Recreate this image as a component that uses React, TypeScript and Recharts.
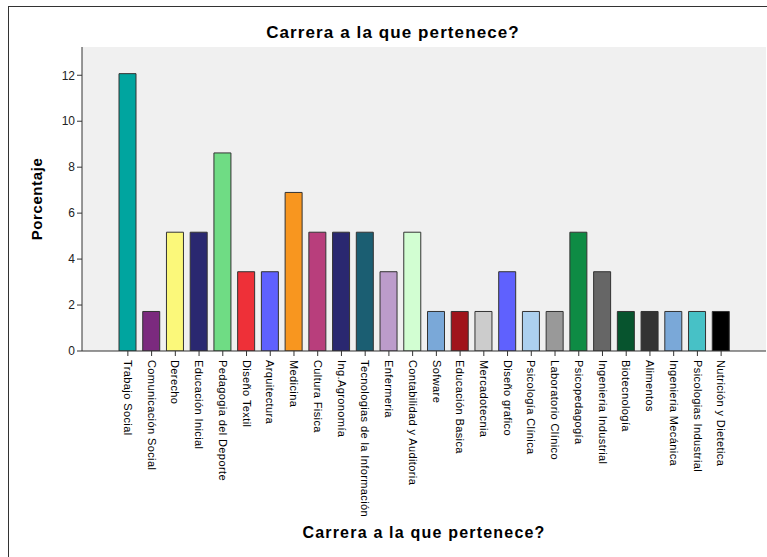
import React from 'react';
import { BarChart, Bar, XAxis, YAxis, CartesianGrid, Cell } from 'recharts';

const categories = [
  'Trabajo Social', 'Comunicación Social', 'Derecho', 'Educación Inicial', 'Pedagogia del Deporte',
  'Diseño Textil', 'Arquitectura', 'Medicina', 'Cultura Fisica', 'Ing.Agronomía',
  'Tecnologias de la Información', 'Enfermeria', 'Contabilidad y Auditoria', 'Sofware', 'Educación Basica',
  'Mercadotecnia', 'Diseño grafico', 'Psicología Clínica', 'Laboratorio Clínico', 'Psicopedagogía',
  'Ingenieria Industrial', 'Biotecnología', 'Alimentos', 'Ingenieria Mecánica', 'Psicologias Industrial',
  'Nutrición y Dietetica',
];

const percentages = [
  12.07, 1.72, 5.17, 5.17, 8.62,
  3.45, 3.45, 6.90, 5.17, 5.17,
  5.17, 3.45, 5.17, 1.72, 1.72,
  1.72, 3.45, 1.72, 1.72, 5.17,
  3.45, 1.72, 1.72, 1.72, 1.72,
  1.72,
];

const barColors = [
  '#00a59f', '#7b2a7e', '#fbf87a', '#2a2870', '#6fdc84',
  '#ee3038', '#5f61fe', '#f8961f', '#b83e7c', '#2a2870',
  '#1b5e72', '#bc9ccb', '#d2fed2', '#7aa8d8', '#a0141b',
  '#cccccc', '#5f61fe', '#acd0ef', '#999999', '#0e8b44',
  '#666666', '#07542e', '#333333', '#7aa8d8', '#47c1c6',
  '#000000',
];

const yTicks = [0, 2, 4, 6, 8, 10, 12];

const title = 'Carrera a la que pertenece?';
const yTitle = 'Porcentaje';

const data = categories.map((name, i) => ({ name, value: percentages[i] }));

const FONT = '"Liberation Sans", Arial, sans-serif';

const XTick = (props: any) => {
  const { x, y, payload } = props;
  return (
    <g transform={`translate(${x},${y})`}>
      <text
        transform="rotate(90)"
        x={2}
        y={0}
        dy="0.35em"
        textAnchor="start"
        fontSize={11}
        letterSpacing={0.4}
        fontFamily={FONT}
        fill="#000"
      >
        {payload.value}
      </text>
    </g>
  );
};

export default function App() {
  return (
    <div style={{ position: 'absolute', left: 0, top: 0, width: 767, height: 557, overflow: 'hidden', background: '#fff', fontFamily: FONT }}>
      <div style={{ position: 'absolute', left: 8, top: 6, width: 800, height: 600, borderLeft: '1px solid #333', borderTop: '1px solid #333', boxSizing: 'border-box' }} />
      <div style={{ position: 'absolute', left: 143, width: 500, top: 22, textAlign: 'center', fontWeight: 'bold', fontSize: 17, letterSpacing: 1.1, lineHeight: '22px', color: '#000' }}>{title}</div>
      <div style={{ position: 'absolute', left: 174, width: 500, top: 522, textAlign: 'center', fontWeight: 'bold', fontSize: 16, letterSpacing: 1.2, lineHeight: '22px', color: '#000' }}>{title}</div>
      <div style={{ position: 'absolute', left: 37, top: 199, width: 0, height: 0 }}>
        <div style={{ position: 'absolute', left: -100, top: -11, width: 200, textAlign: 'center', transform: 'rotate(-90deg)', fontWeight: 'bold', fontSize: 15, letterSpacing: 0.6, lineHeight: '22px', color: '#000' }}>{yTitle}</div>
      </div>
      <div style={{ position: 'absolute', left: 0, top: 0 }}>
        <BarChart width={767} height={557} data={data} margin={{ top: 47, right: 1, bottom: 36, left: 42 }}>
          <CartesianGrid stroke="none" fill="#f0f0f0" fillOpacity={1} horizontal={false} vertical={false} />
          <XAxis
            dataKey="name"
            interval={0}
            height={170}
            padding={{ left: 34, right: 33 }}
            tickSize={5}
            tickLine={{ stroke: '#333' }}
            axisLine={{ stroke: '#333' }}
            tick={<XTick />}
          />
          <XAxis xAxisId="top" orientation="top" dataKey="name" height={0} tick={false} tickLine={false} axisLine={{ stroke: '#555' }} />
          <YAxis
            width={40}
            domain={[0, 13.23]}
            ticks={yTicks}
            tickSize={5}
            tickLine={{ stroke: '#333' }}
            axisLine={{ stroke: '#333' }}
            tick={{ fontSize: 12, fill: '#222', fontFamily: FONT }}
            allowDataOverflow
          />
          <YAxis yAxisId="right" orientation="right" width={0} tick={false} tickLine={false} axisLine={{ stroke: '#777' }} />
          <Bar dataKey="value" barSize={17} stroke="#333" strokeWidth={1} isAnimationActive={false}>
            {data.map((d, i) => (
              <Cell key={d.name} fill={barColors[i]} />
            ))}
          </Bar>
        </BarChart>
      </div>
    </div>
  );
}
